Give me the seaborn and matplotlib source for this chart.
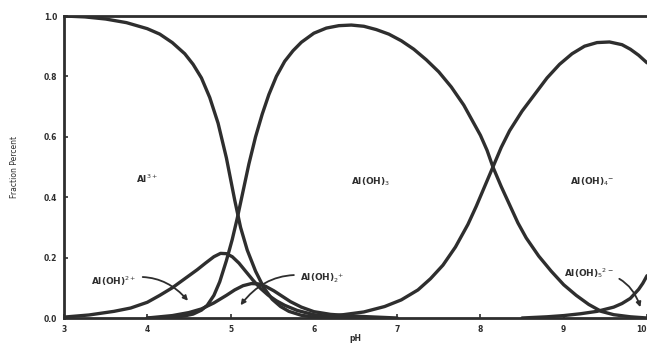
import numpy as np
import pandas as pd
import matplotlib
matplotlib.use("Agg")
import matplotlib.pyplot as plt
import seaborn as sns

# valeurs (pH, fraction)
al3_ph = [3.0, 3.25, 3.5, 3.75, 4.0, 4.15, 4.3, 4.45, 4.55, 4.65, 4.75, 4.85, 4.95, 5.05, 5.12, 5.2, 5.3, 5.4, 5.5, 5.6, 5.7, 5.85, 6.0, 6.5]
al3_fr = [1.0, 0.997, 0.99, 0.978, 0.958, 0.94, 0.912, 0.875, 0.84, 0.795, 0.73, 0.645, 0.53, 0.39, 0.30, 0.225, 0.155, 0.10, 0.062, 0.038, 0.022, 0.009, 0.003, 0.0]

aloh_ph = [3.0, 3.3, 3.6, 3.8, 4.0, 4.15, 4.3, 4.45, 4.6, 4.7, 4.8, 4.88, 4.95, 5.02, 5.1, 5.18, 5.27, 5.36, 5.45, 5.55, 5.65, 5.8, 6.0, 6.2, 6.5]
aloh_fr = [0.003, 0.01, 0.022, 0.033, 0.052, 0.075, 0.10, 0.13, 0.16, 0.182, 0.203, 0.214, 0.213, 0.203, 0.182, 0.155, 0.125, 0.098, 0.076, 0.057, 0.042, 0.025, 0.011, 0.004, 0.0]

aloh2_ph = [4.0, 4.3, 4.5, 4.65, 4.8, 4.95, 5.05, 5.15, 5.25, 5.33, 5.42, 5.52, 5.62, 5.72, 5.85, 6.0, 6.2, 6.5, 7.0]
aloh2_fr = [0.0, 0.008, 0.018, 0.03, 0.05, 0.075, 0.093, 0.107, 0.114, 0.113, 0.105, 0.09, 0.072, 0.054, 0.036, 0.021, 0.012, 0.006, 0.0]

aloh3_ph = [4.0, 4.3, 4.45, 4.55, 4.65, 4.72, 4.8, 4.87, 4.95, 5.02, 5.08, 5.15, 5.22, 5.3, 5.38, 5.46, 5.55, 5.65, 5.75, 5.85,
            6.0, 6.15, 6.3, 6.45, 6.6, 6.75, 6.9, 7.05, 7.2, 7.35, 7.5, 7.65, 7.8, 7.9, 8.0, 8.08, 8.15, 8.25, 8.35, 8.45,
            8.55, 8.7, 8.85, 9.0, 9.15, 9.3, 9.45, 9.6, 9.8, 10.0]
aloh3_fr = [0.0, 0.002, 0.007, 0.013, 0.026, 0.042, 0.075, 0.12, 0.19, 0.26, 0.33, 0.42, 0.51, 0.60, 0.675, 0.74, 0.80, 0.85, 0.885, 0.913,
            0.943, 0.96, 0.968, 0.97, 0.966, 0.955, 0.94, 0.918, 0.89, 0.855, 0.815, 0.765, 0.705, 0.655, 0.605, 0.555, 0.50, 0.435, 0.375, 0.315,
            0.265, 0.205, 0.155, 0.11, 0.075, 0.045, 0.022, 0.011, 0.004, 0.0]

aloh4_ph = [6.0, 6.3, 6.6, 6.85, 7.05, 7.25, 7.4, 7.55, 7.7, 7.85, 7.95, 8.05, 8.15, 8.25, 8.35, 8.5, 8.65, 8.8, 8.95, 9.1,
            9.25, 9.4, 9.55, 9.7, 9.8, 9.9, 10.0]
aloh4_fr = [0.003, 0.009, 0.02, 0.038, 0.06, 0.093, 0.13, 0.175, 0.235, 0.31, 0.37, 0.435, 0.50, 0.565, 0.62, 0.685, 0.74, 0.795, 0.84, 0.875,
            0.90, 0.912, 0.914, 0.905, 0.89, 0.87, 0.845]

aloh5_ph = [8.5, 8.8, 9.0, 9.2, 9.4, 9.6, 9.7, 9.8, 9.9, 9.95, 10.0]
aloh5_fr = [0.0, 0.004, 0.008, 0.014, 0.022, 0.036, 0.048, 0.065, 0.095, 0.115, 0.14]

x_ticks = [3, 4, 5, 6, 7, 8, 9, 10]
y_ticks = [0.0, 0.2, 0.4, 0.6, 0.8, 1.0]

series = {
    "al3": (al3_ph, al3_fr),
    "aloh": (aloh_ph, aloh_fr),
    "aloh2": (aloh2_ph, aloh2_fr),
    "aloh3": (aloh3_ph, aloh3_fr),
    "aloh4": (aloh4_ph, aloh4_fr),
    "aloh5": (aloh5_ph, aloh5_fr),
}
df = pd.concat(
    [pd.DataFrame({"pH": p, "frac": f, "species": k}) for k, (p, f) in series.items()],
    ignore_index=True,
)

sns.set_style("ticks")
plt.rcParams["font.family"] = ["DejaVu Sans"]

ink = "#2e2e2e"
fig = plt.figure(figsize=(6.47, 3.44), dpi=100)
ax = fig.add_axes([64 / 647, 26 / 344, 583 / 647, 302 / 344])

sns.lineplot(
    data=df, x="pH", y="frac", hue="species", palette=[ink] * 6,
    estimator=None, sort=False, legend=False, linewidth=2.4, ax=ax,
)
for ln in ax.lines:
    ln.set_solid_joinstyle("round")
    ln.set_solid_capstyle("round")

ax.set_xlim(3, 10)
ax.set_ylim(0, 1.0)
ax.set_xticks(x_ticks)
ax.set_yticks(y_ticks)
ax.set_xticklabels([str(t) for t in x_ticks], fontsize=5.5, fontweight="bold", color=ink)
ax.set_yticklabels([f"{t:.1f}" for t in y_ticks], fontsize=5.5, fontweight="bold", color=ink)
# le dernier label touche le bord de l'image
ax.get_xticklabels()[-1].set_horizontalalignment("right")
ax.tick_params(direction="in", length=3, width=1.2, color=ink, pad=5)
for s in ["left", "bottom", "top"]:
    ax.spines[s].set_linewidth(2.0)
    ax.spines[s].set_color(ink)
ax.spines["right"].set_visible(False)

ax.set_xlabel("pH", fontsize=5.5, fontweight="bold", color=ink, labelpad=0)
ax.set_ylabel("Fraction Percent", fontsize=5.5, color=ink, labelpad=18)

txt = dict(fontsize=6.5, fontweight="bold", color=ink, ha="center", va="center")
ax.text(4.0, 0.46, r"Al$^{3+}$", **txt)
ax.text(6.68, 0.45, r"Al(OH)$_3$", **txt)
ax.text(9.34, 0.45, r"Al(OH)$_4$$^{-}$", **txt)

arr = dict(arrowstyle="-|>", color=ink, lw=1.3, mutation_scale=7)
ax.annotate(r"Al(OH)$^{2+}$", xy=(4.51, 0.05), xytext=(3.6, 0.12),
            arrowprops=dict(connectionstyle="arc3,rad=-0.35", **arr), **txt)
ax.annotate(r"Al(OH)$_2$$^{+}$", xy=(5.1, 0.035), xytext=(6.1, 0.13),
            arrowprops=dict(connectionstyle="arc3,rad=0.35", **arr), **txt)
ax.annotate(r"Al(OH)$_5$$^{2-}$", xy=(9.93, 0.027), xytext=(9.3, 0.15),
            arrowprops=dict(connectionstyle="arc3,rad=-0.4", **arr), **txt)

fig.savefig("out.png", dpi=100)
